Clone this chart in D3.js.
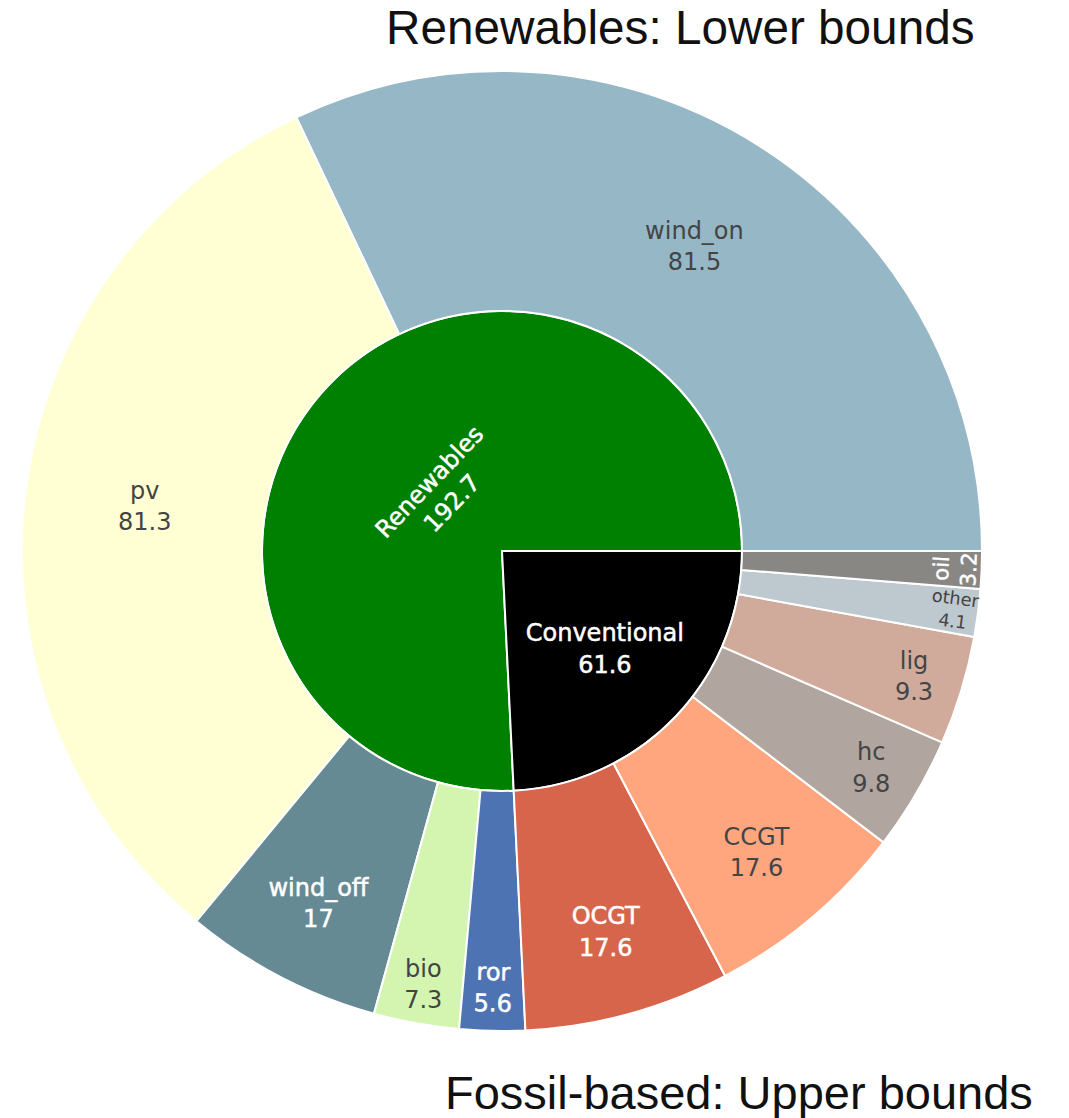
<!DOCTYPE html>
<html>
<head>
<meta charset="utf-8">
<script src="https://cdn.jsdelivr.net/npm/d3@7"></script>
<style>
  body { margin: 0; background: #fff; }
  svg { display: block; }
</style>
</head>
<body>
<svg id="chart" width="1069" height="1118"></svg>
<script>
// ---- data -------------------------------------------------------------
const groups = ["Renewables", "Conventional"];
const renewableTech = ["wind_on", "pv", "wind_off", "bio", "ror"];
const renewableValues = [81.5, 81.3, 17, 7.3, 5.6];
const conventionalTech = ["OCGT", "CCGT", "hc", "lig", "other", "oil"];
const conventionalValues = [17.6, 17.6, 9.8, 9.3, 4.1, 3.2];
const titleTop = "Renewables: Lower bounds";
const titleBottom = "Fossil-based: Upper bounds";

// ---- styling ----------------------------------------------------------
const palette = {
  Renewables: "#008000", Conventional: "#000000",
  wind_on: "#96b7c5", pv: "#ffffd3", wind_off: "#668a94", bio: "#d4f5b0", ror: "#4e73b2",
  OCGT: "#d7654c", CCGT: "#ffa67f", hc: "#b0a69f", lig: "#d0ab9b", other: "#bec8cf", oil: "#898784"
};
const W = 1069, H = 1118;
const cx = 502, cy = 551, ringW = 240;
const labelFont = "'DejaVu Sans', Verdana, sans-serif";
const labelSize = 24;

// text contrast: dark grey on light fills, white on dark fills
function textColor(fill) {
  const c = d3.rgb(fill);
  const b = (c.r * 299 + c.g * 587 + c.b * 114) / 1000;
  return b < 140 ? "#ffffff" : "#444444";
}
const fmt = v => String(+v.toFixed(1));

// ---- hierarchy --------------------------------------------------------
const tree = {
  name: "root",
  children: [
    { name: groups[0], children: renewableTech.map((n, i) => ({ name: n, value: renewableValues[i] })) },
    { name: groups[1], children: conventionalTech.map((n, i) => ({ name: n, value: conventionalValues[i] })) }
  ]
};
const root = d3.hierarchy(tree).sum(d => d.value || 0);
d3.partition().size([2 * Math.PI, 3])(root);   // x: angle (counter-clockwise from east), y: depth band

const nodes = root.descendants().filter(d => d.depth > 0);
nodes.forEach(d => {
  d.rpx0 = (d.depth - 1) * ringW;
  d.rpx1 = d.depth * ringW;
  // d3.arc angles run clockwise from 12 o'clock
  d.a0 = Math.PI / 2 - d.x1;
  d.a1 = Math.PI / 2 - d.x0;
});

const svg = d3.select("#chart");
svg.append("rect").attr("width", W).attr("height", H).attr("fill", "#fff");

const arc = d3.arc()
  .startAngle(d => d.a0).endAngle(d => d.a1)
  .innerRadius(d => d.rpx0).outerRadius(d => d.rpx1);

const g = svg.append("g").attr("transform", `translate(${cx},${cy})`);
g.selectAll("path.slice")
  .data(nodes)
  .join("path")
  .attr("class", "slice")
  .attr("d", arc)
  .attr("fill", d => palette[d.data.name])
  .attr("stroke", "#ffffff")
  .attr("stroke-width", 2)
  .attr("stroke-linejoin", "round");

// ---- label placement inside slices -----------------------------------
function angleDelta(a, b) { const d = b - a; return Math.atan2(Math.sin(d), Math.cos(d)); }
function maxHalfSize(a, halfAngle, r, ring) {
  const q = a + 1 / (2 * Math.tan(halfAngle));
  return r * Math.min(1 / (Math.sqrt(q * q + 0.5) + q), ring / (Math.sqrt(a * a + ring / 2) + a));
}
function rCenterOf(a, b) { return Math.cos(b) - a * b; }
function rotOf(t) { return (180 / Math.PI * t + 720) % 180 - 90; }

function placeText(d, bb) {
  const r = d.rpx1;
  const ring = 1 - d.rpx0 / d.rpx1;
  const halfAngle = 0.5 * Math.min(angleDelta(d.x0, d.x1) || Math.PI, Math.PI);
  const midAngle = Math.PI / 2 - (d.x0 + d.x1) / 2;   // clockwise from north
  const rIns = Math.max(0, Math.min(1 / (1 + 1 / Math.sin(halfAngle)), ring / 2));
  const options = [];
  const diam = Math.hypot(bb.width, bb.height);
  const horiz = { scale: rIns * r * 2 / diam, rCenter: 1 - rIns, rotate: 0 };
  if (horiz.scale >= 1) return finish(horiz);
  options.push(horiz);
  {
    const a = bb.width / bb.height;
    const s = maxHalfSize(a, halfAngle, r, ring);
    options.push({ scale: s * 2 / bb.height, rCenter: rCenterOf(a, s / r), rotate: rotOf(midAngle) });
  }
  {
    const a = bb.height / bb.width;
    const s = maxHalfSize(a, halfAngle, r, ring);
    options.push({ scale: s * 2 / bb.width, rCenter: rCenterOf(a, s / r), rotate: rotOf(midAngle + Math.PI / 2) });
  }
  let best = options[0];
  options.forEach(o => { if (o.scale > best.scale) best = o; });
  return finish(best);

  function finish(t) {
    return {
      x: r * Math.sin(midAngle) * t.rCenter,
      y: -r * Math.cos(midAngle) * t.rCenter,
      scale: Math.min(1, t.scale),
      rotate: t.rotate
    };
  }
}

const labels = g.selectAll("g.label")
  .data(nodes)
  .join("g")
  .attr("class", "label");

labels.each(function (d) {
  const lg = d3.select(this);
  const col = textColor(palette[d.data.name]);
  const t = lg.append("text")
    .attr("font-family", labelFont)
    .attr("font-size", labelSize)
    .attr("text-anchor", "middle")
    .attr("fill", col);
  if (col === "#ffffff") t.attr("stroke", col).attr("stroke-width", 0.5);
  t.append("tspan").attr("x", 0).attr("dy", 0).text(d.data.name);
  t.append("tspan").attr("x", 0).attr("dy", "1.3em").text(fmt(d.value));
  const bb = t.node().getBBox();
  const p = placeText(d, bb);
  const bx = bb.x + bb.width / 2, by = bb.y + bb.height / 2;
  lg.attr("transform",
    `translate(${p.x},${p.y}) rotate(${p.rotate}) scale(${p.scale}) translate(${-bx},${-by})`);
});

// ---- titles -----------------------------------------------------------
svg.append("text")
  .attr("x", 386).attr("y", 44)
  .attr("font-family", "'Liberation Sans', Arial, Helvetica, sans-serif")
  .attr("font-size", 47.7)
  .attr("fill", "#111")
  .text(titleTop);
svg.append("text")
  .attr("x", 445).attr("y", 1109)
  .attr("font-family", "'Liberation Sans', Arial, Helvetica, sans-serif")
  .attr("font-size", 47)
  .attr("fill", "#111")
  .text(titleBottom);
</script>
</body>
</html>
